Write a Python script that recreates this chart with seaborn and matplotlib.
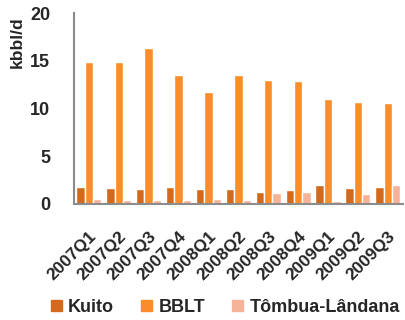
import matplotlib
matplotlib.use("Agg")
import matplotlib.pyplot as plt
import seaborn as sns
import pandas as pd
import numpy as np

quarters = ["2007Q1", "2007Q2", "2007Q3", "2007Q4", "2008Q1", "2008Q2",
            "2008Q3", "2008Q4", "2009Q1", "2009Q2", "2009Q3"]
kuito = [1.8, 1.7, 1.55, 1.8, 1.55, 1.55, 1.3, 1.45, 2.0, 1.7, 1.75]
bblt = [14.9, 14.9, 16.3, 13.5, 11.7, 13.5, 13.0, 12.9, 11.0, 10.7, 10.6]
tombua = [0.5, 0.4, 0.4, 0.4, 0.5, 0.4, 1.2, 1.3, 0.3, 1.1, 2.0]
series = ["Kuito", "BBLT", "Tômbua-Lândana"]
colors = ["#D2691C", "#F88D2A", "#F5B49A"]

df = pd.DataFrame({
    "quarter": quarters * 3,
    "field": [series[0]] * len(quarters) + [series[1]] * len(quarters) + [series[2]] * len(quarters),
    "value": kuito + bblt + tombua,
})

sns.set_style("white")
plt.rcParams["font.family"] = ["Liberation Sans", "DejaVu Sans"]
plt.rcParams["font.weight"] = "bold"

fig = plt.figure(figsize=(4.06, 3.2), dpi=100)
ax = fig.add_axes([0.182, 0.3625, 0.81, 0.5965])

sns.barplot(data=df, x="quarter", y="value", hue="field", order=quarters,
            hue_order=series, palette=colors, width=0.84, saturation=1,
            ax=ax, legend=False)

ax.set_ylim(0, 20)
ax.set_xlim(-0.5, len(quarters) - 0.5)
ax.set_yticks([0, 5, 10, 15, 20])
ax.set_yticklabels(["0", "5", "10", "15", "20"], fontsize=13, fontweight="bold")
ax.set_xticks(range(len(quarters)))
ax.set_xticklabels(quarters, rotation=45, ha="right", rotation_mode="anchor",
                   fontsize=12.5, fontweight="bold")
ax.set_xticks(np.arange(-0.5, len(quarters), 1.0), minor=True)
ax.tick_params(axis="x", which="major", length=0, pad=18)
ax.tick_params(axis="x", which="minor", length=5, color="#8C8C8C", width=1.2)
ax.tick_params(axis="y", length=5, color="#8C8C8C", width=1.2, pad=12)
ax.set_xlabel("")
ax.set_ylabel("kbbl/d", fontsize=12.5, fontweight="bold")
ax.yaxis.set_label_coords(-0.148, 0.85)

for side in ["top", "right"]:
    ax.spines[side].set_visible(False)
for side in ["left", "bottom"]:
    ax.spines[side].set_color("#8C8C8C")
    ax.spines[side].set_linewidth(1.5)

handles = [plt.Rectangle((0, 0), 1, 1, color=c) for c in colors]
fig.legend(handles, series, loc="center", bbox_to_anchor=(0.555, 0.04), ncol=3,
           frameon=False, prop={"weight": "bold", "size": 13},
           handlelength=0.6, handleheight=0.6, handletextpad=0.35,
           columnspacing=1.5, borderaxespad=0)

fig.savefig("out.png", dpi=100)
